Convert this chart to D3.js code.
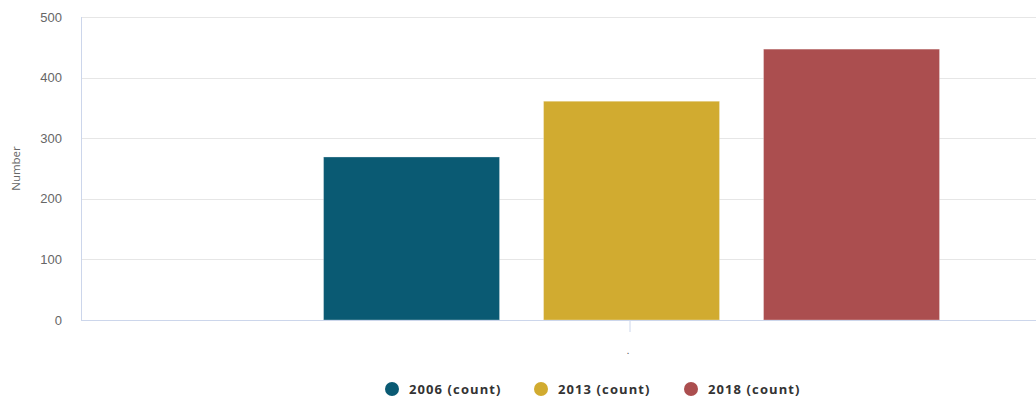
<!DOCTYPE html>
<html><head><meta charset="utf-8">
<script src="https://cdn.jsdelivr.net/npm/d3@7"></script>
<style>body{margin:0;background:#fff;}svg{display:block;font-family:"Open Sans",Lato,sans-serif;}</style>
</head><body>
<svg id="c" width="1036" height="400"></svg>
<script>
const categories = ["."];
const seriesNames = ["2006 (count)", "2013 (count)", "2018 (count)"];
const seriesValues = [[269], [361], [447]];
const seriesColors = ["#0a5a73", "#d1ab30", "#ab4e4f"];
const yTicks = [0, 100, 200, 300, 400, 500];
const yTitle = "Number";

(function () {
const svg = d3.select("#c");
const pLeft = 81, pRight = 1179, pTop = 17, pBottom = 320;
const y = d3.scaleLinear().domain([0, 500]).range([pBottom, pTop]);
const x0 = d3.scaleBand().domain(categories).range([pLeft, pRight]);
const bw = x0.bandwidth();
const x1 = d3.scaleBand().domain(seriesNames).range([bw * 0.2209, bw * 0.7819]).paddingInner(0.2).paddingOuter(0);

// grid
svg.append("g").selectAll("line").data(yTicks.filter(d => d > 0)).join("line")
  .attr("x1", pLeft).attr("x2", 1036).attr("y1", d => Math.round(y(d)) + 0.5).attr("y2", d => Math.round(y(d)) + 0.5)
  .attr("stroke", "#e6e6e6").attr("stroke-width", 1);

// y-axis
const ya = svg.append("g").attr("transform", `translate(${pLeft},0)`)
  .call(d3.axisLeft(y).tickValues(yTicks).tickSize(0).tickPadding(19));
ya.select(".domain").attr("stroke", "#ccd6eb").attr("d", `M0.5,${pTop}V${pBottom}`);
ya.selectAll("text").attr("fill", "#666").attr("font-size", 13).attr("dy", "0.32em");

svg.append("text").attr("transform", `translate(20,${(pTop + pBottom) / 2}) rotate(-90)`)
  .attr("text-anchor", "middle").attr("fill", "#666").attr("font-size", 11.5).text(yTitle);

// bars
categories.forEach((c, ci) => {
  const g = svg.append("g").attr("transform", `translate(${x0(c)},0)`);
  g.selectAll("rect").data(seriesNames).join("rect")
    .attr("x", d => x1(d)).attr("width", x1.bandwidth())
    .attr("y", (d, i) => y(seriesValues[i][ci]))
    .attr("height", (d, i) => y(0) - y(seriesValues[i][ci]))
    .attr("fill", (d, i) => seriesColors[i])
    .attr("stroke", "#fff").attr("stroke-opacity", 0.3).attr("stroke-width", 1);
});

// x-axis
const xa = svg.append("g").attr("transform", `translate(0,${pBottom})`)
  .call(d3.axisBottom(x0).tickSize(12).tickPadding(14));
xa.select(".domain").attr("stroke", "#ccd6eb").attr("d", `M${pLeft},0.5H1036`);
xa.selectAll(".tick line").attr("stroke", "#ccd6eb");
xa.selectAll("text").attr("fill", "#666").attr("font-size", 11).attr("dx", "-2");

// legend
const lx = [392, 541, 691];
const lg = svg.append("g");
seriesNames.forEach((s, i) => {
  lg.append("circle").attr("cx", lx[i]).attr("cy", 389).attr("r", 7).attr("fill", seriesColors[i]);
  lg.append("text").attr("x", lx[i] + 17).attr("y", 389).attr("dy", "0.35em")
    .attr("font-size", 13).attr("font-weight", "bold").attr("letter-spacing", "1.1").attr("fill", "#333").text(s);
});
})();
</script>
</body></html>
